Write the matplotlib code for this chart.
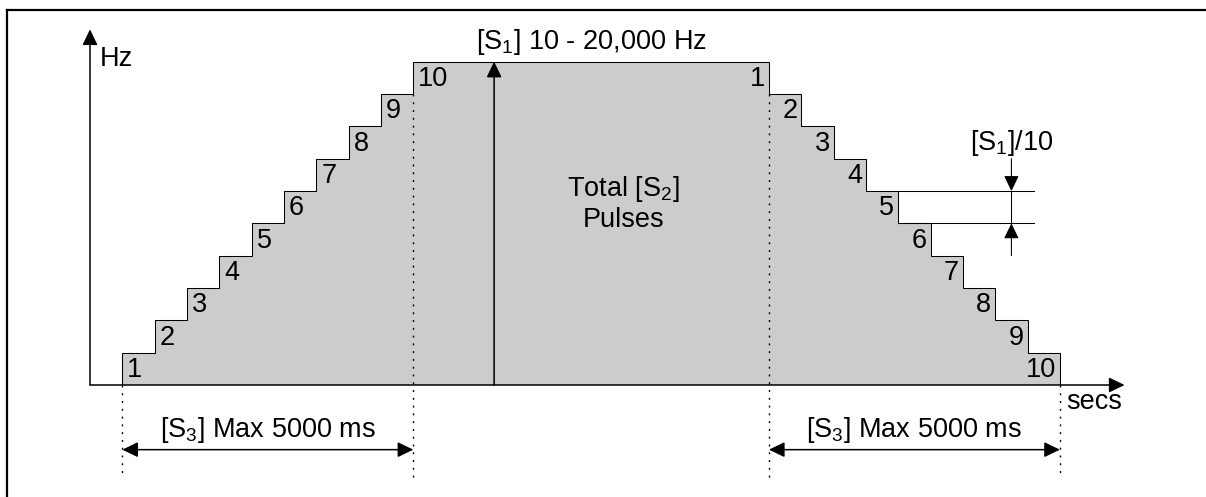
import matplotlib
matplotlib.use('Agg')
import matplotlib.pyplot as plt
from matplotlib.patches import FancyArrowPatch

plt.rcParams['font.family'] = ['Liberation Sans', 'DejaVu Sans']
plt.rcParams['mathtext.fontset'] = 'custom'
plt.rcParams['mathtext.rm'] = 'Liberation Sans'
plt.rcParams['mathtext.it'] = 'Liberation Sans:italic'
plt.rcParams['mathtext.bf'] = 'Liberation Sans:bold'

# ramp profile, time in step widths, frequency in [S1]/10 units
step_numbers = [1, 2, 3, 4, 5, 6, 7, 8, 9, 10]
up_step_left = [1, 2, 3, 4, 5, 6, 7, 8, 9, 10]
up_levels = [1, 2, 3, 4, 5, 6, 7, 8, 9, 10]
down_step_right = [21, 22, 23, 24, 25, 26, 27, 28, 29, 30]
down_levels = [10, 9, 8, 7, 6, 5, 4, 3, 2, 1]
plateau_end = 21
pulse_arrow_x = 12.5
dim_x = 28.5          # [S1]/10 dimension marker
dim_levels = [5, 6]

FS = 19.5
LW = 0.75
S = 32.33             # pixels per unit
W, H = 1206, 497
ox, oy = 90, 385      # origin in pixels

fig = plt.figure(figsize=(W / 100, H / 100), dpi=100)
ax = fig.add_axes([0, 0, 1, 1])
ax.set_xlim(-ox / S, (W - ox) / S)
ax.set_ylim((oy - H) / S, oy / S)
ax.axis('off')

# stair profile
edges = up_step_left + down_step_right
values = up_levels[:-1] + [up_levels[-1]] + down_levels[1:]
ax.stairs(values, edges, baseline=0, fill=True, color='#cccccc', lw=0)
ax.stairs(values, edges, baseline=0, fill=False, color='black', lw=LW)

# step numbers
for n, x, lv in zip(step_numbers, up_step_left, up_levels):
    ax.text(x + 0.15, lv - 0.75, str(n), ha='left', va='baseline', fontsize=FS)
for n, x, lv in zip(step_numbers, down_step_right, down_levels):
    ax.text(x - 0.12, lv - 0.75, str(n), ha='right', va='baseline', fontsize=FS)


def arrow(p0, p1, style='-|>', lw=1.1):
    a = FancyArrowPatch(p0, p1, arrowstyle=style + ',head_length=9.5,head_width=4.6',
                        mutation_scale=1, color='black', lw=lw,
                        shrinkA=0, shrinkB=0)
    ax.add_patch(a)


# axes
x_end = 32
y_end = 11
arrow((0, 0), (x_end, 0))
arrow((0, 0), (0, y_end))
ax.text(0.3, 9.88, 'Hz', fontsize=FS, va='baseline', ha='left')
ax.text(30.2, -0.75, 'secs', fontsize=FS, va='baseline', ha='left')

# dotted guides
dots = dict(color='black', lw=1.0, linestyle=(0, (1.4, 4.2)))
ax.plot([up_step_left[0]] * 2, [0, -2.8], **dots)
ax.plot([up_step_left[-1]] * 2, [up_levels[-2], -2.95], **dots)
ax.plot([plateau_end] * 2, [down_levels[1], -2.95], **dots)
ax.plot([down_step_right[-1]] * 2, [0, -2.8], **dots)

# ramp time dimensions
arrow((up_step_left[0], -2), (up_step_left[-1], -2), style='<|-|>')
arrow((plateau_end, -2), (down_step_right[-1], -2), style='<|-|>')
ax.text((up_step_left[0] + up_step_left[-1]) / 2, -1.61,
        r'[S$_{\mathrm{3}}$] Max 5000 ms', fontsize=FS, ha='center', va='baseline')
ax.text((plateau_end + down_step_right[-1]) / 2, -1.61,
        r'[S$_{\mathrm{3}}$] Max 5000 ms', fontsize=FS, ha='center', va='baseline')

# max frequency
arrow((pulse_arrow_x, 0), (pulse_arrow_x, up_levels[-1]))
ax.text(11.95, 10.39, r'[S$_{\mathrm{1}}$] 10 - 20,000 Hz', fontsize=FS,
        ha='left', va='baseline')
ax.text(16.5, 5.85, r'Total [S$_{\mathrm{2}}$]', fontsize=FS, ha='center', va='baseline')
ax.text(16.5, 4.9, 'Pulses', fontsize=FS, ha='center', va='baseline')

# step height dimension
ax.plot([25, 29.2], [dim_levels[1]] * 2, color='black', lw=LW)
ax.plot([25, 29.2], [dim_levels[0]] * 2, color='black', lw=LW)
ax.plot([dim_x] * 2, dim_levels, color='black', lw=LW)
arrow((dim_x, dim_levels[1] + 1), (dim_x, dim_levels[1]), lw=LW)
arrow((dim_x, dim_levels[0] - 1), (dim_x, dim_levels[0]), lw=LW)
ax.text(dim_x, 7.28, r'[S$_{\mathrm{1}}$]/10', fontsize=FS, ha='center', va='baseline')

# frame (top and left edges only visible)
fx, fy = (7 - ox) / S, (oy - 10) / S
ax.plot([fx, (W - ox) / S + 1], [fy, fy], color='black', lw=1.6, solid_capstyle='projecting')
ax.plot([fx, fx], [fy, (oy - H) / S - 1], color='black', lw=1.6, solid_capstyle='projecting')

fig.savefig('out.png', dpi=100)
